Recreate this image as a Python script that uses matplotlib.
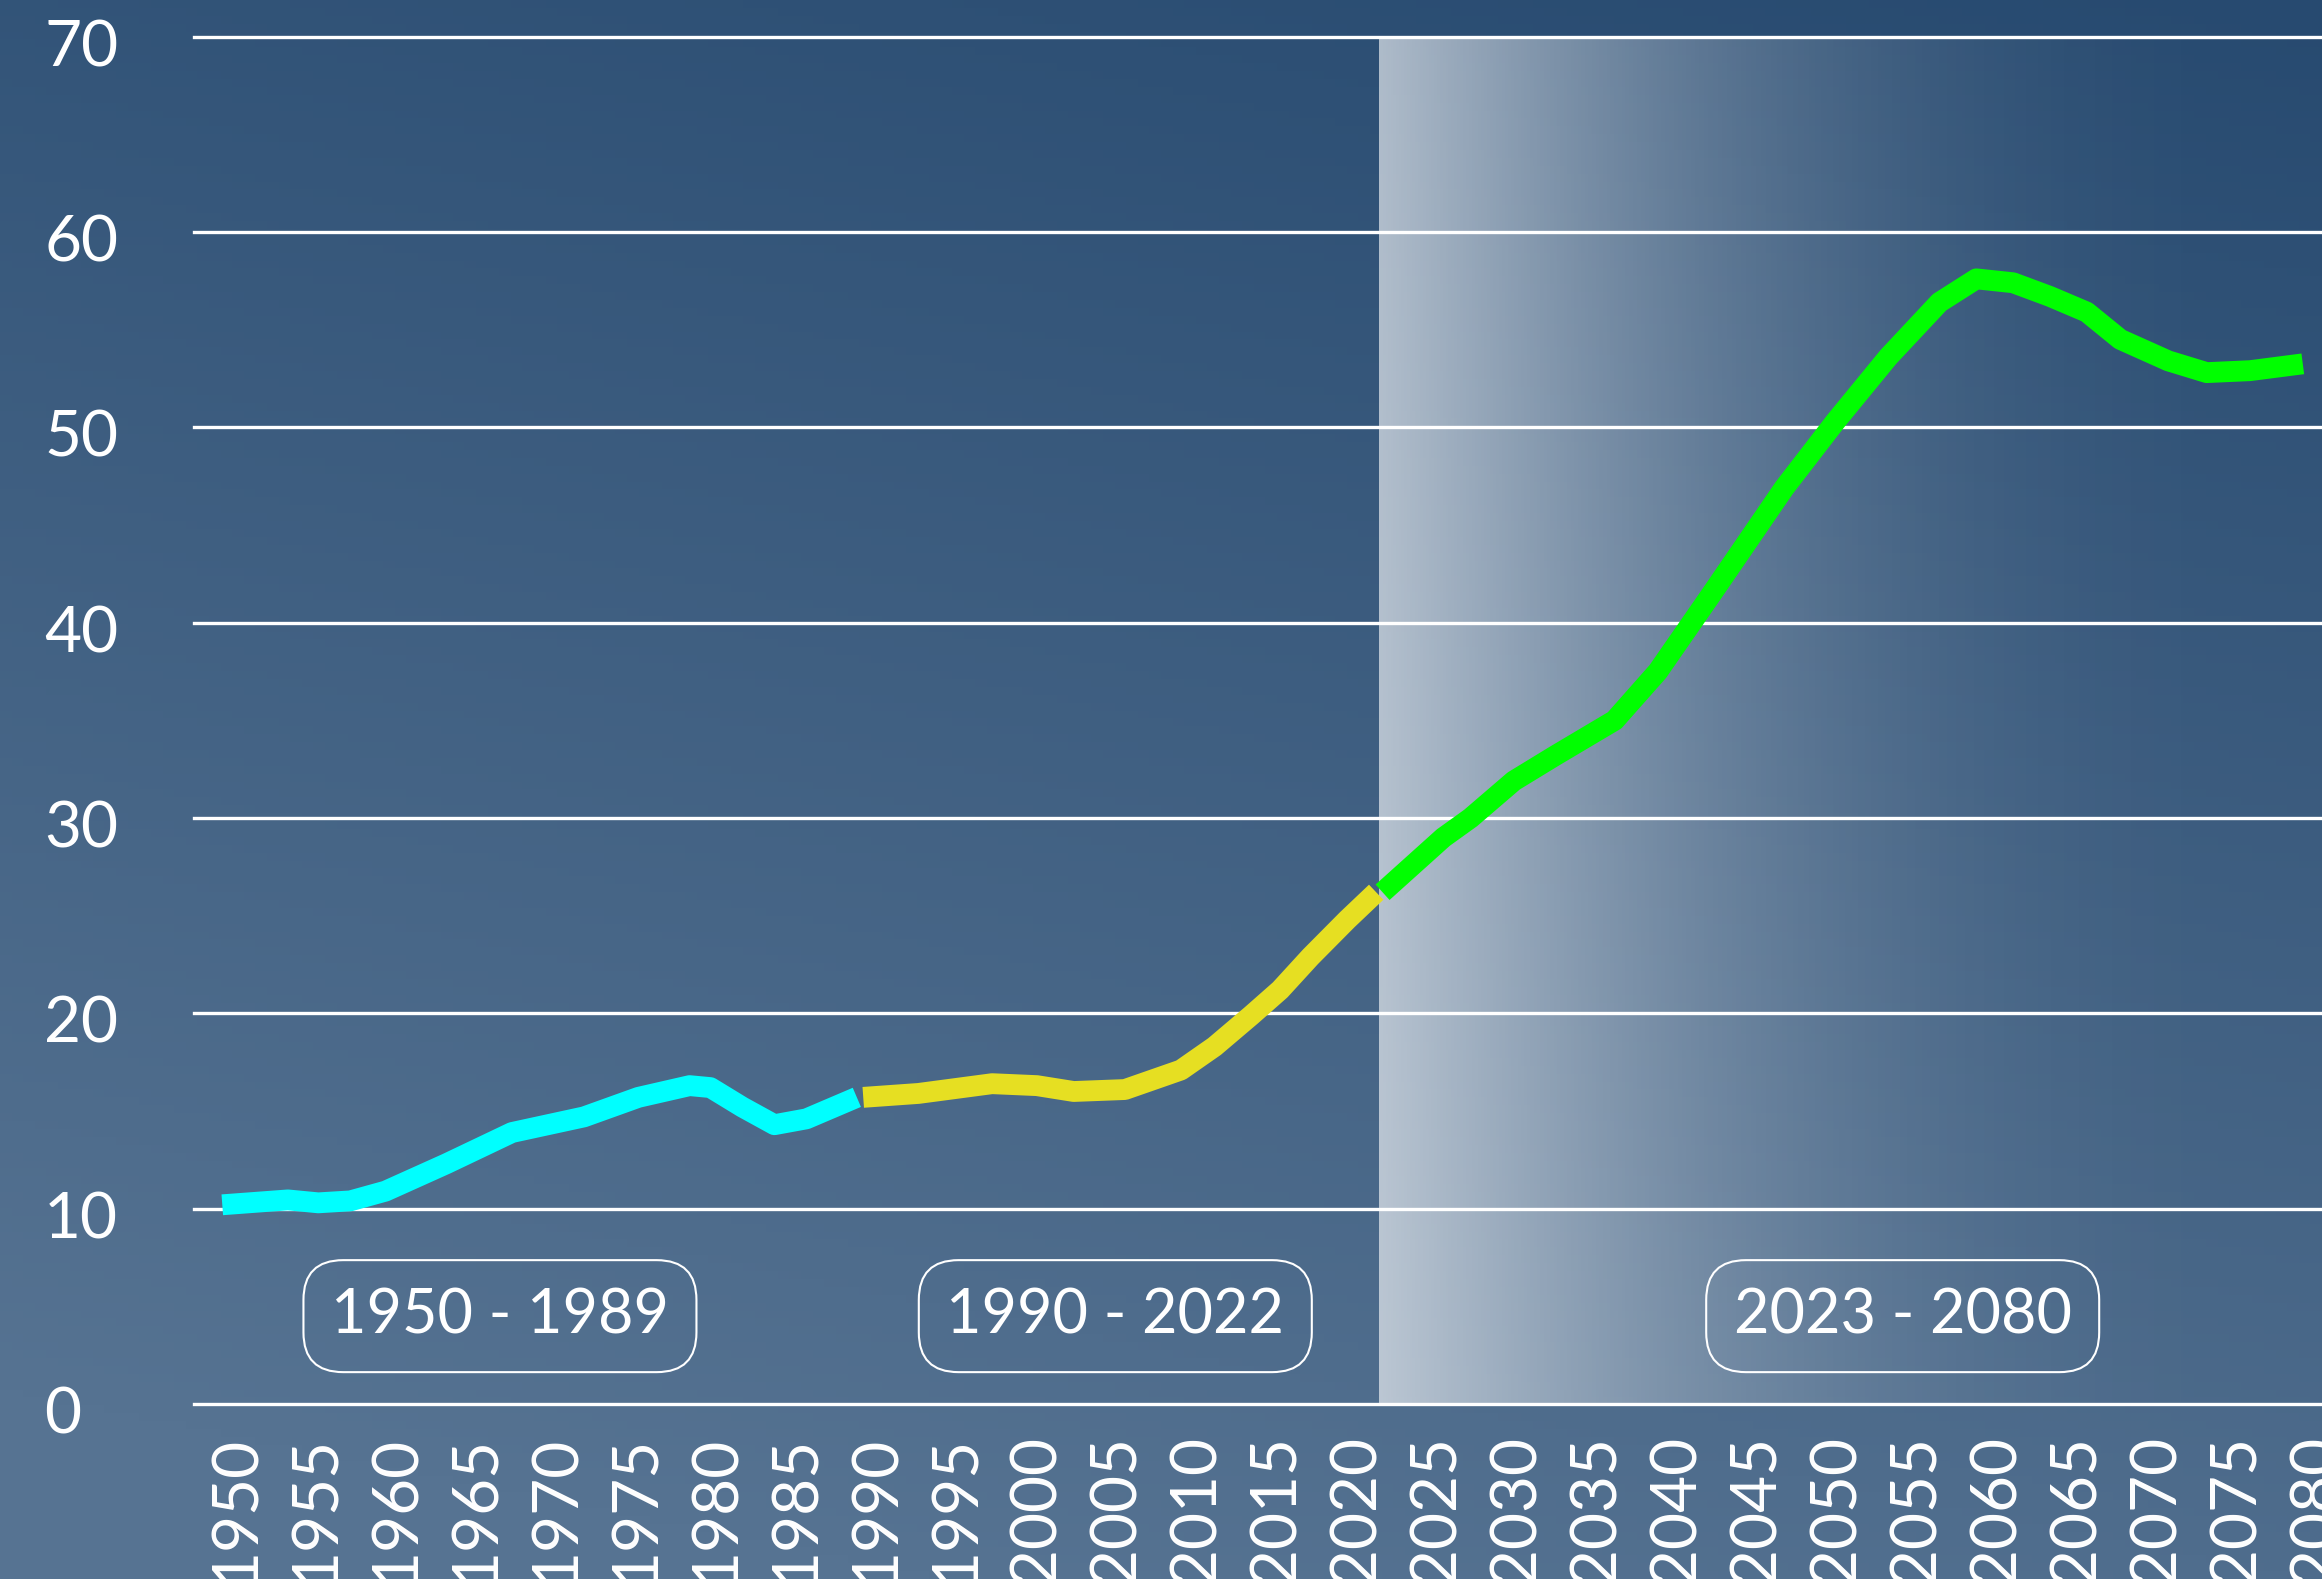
import numpy as np
import matplotlib.pyplot as plt
from matplotlib.transforms import ScaledTranslation

# series (year, value)
early_years = [1950, 1954.1, 1956, 1958, 1960.2, 1964, 1968.1, 1972.6, 1976, 1979.2,
               1980.5, 1982.5, 1984.5, 1986.5, 1989.65]
early_vals = [10.2, 10.45, 10.3, 10.4, 10.9, 12.3, 13.9, 14.7, 15.7, 16.3,
              16.2, 15.2, 14.3, 14.6, 15.7]

mid_years = [1990.05, 1993.5, 1998.1, 2000.9, 2003.2, 2006.4, 2009.9, 2012, 2014.3,
             2016.1, 2018, 2020.3, 2022.1]
mid_vals = [15.7, 15.9, 16.4, 16.3, 16.0, 16.1, 17.1, 18.3, 19.9,
            21.2, 22.9, 24.8, 26.2]

proj_years = [2022.5, 2026.3, 2028, 2030.7, 2033.3, 2037, 2039.7, 2043, 2047.6, 2050.8,
              2054.1, 2057.3, 2059.6, 2061.9, 2064.2, 2066.5, 2068.6, 2071.6, 2074,
              2076.7, 2080]
proj_vals = [26.2, 29.0, 30.0, 31.9, 33.2, 35.0, 37.5, 41.4, 46.9, 50.3,
             53.6, 56.4, 57.6, 57.4, 56.7, 55.9, 54.5, 53.4, 52.8,
             52.9, 53.25]

period_labels = ["1950 - 1989", "1990 - 2022", "2023 - 2080"]
period_centers = [1967.35, 2005.8, 2055.0]
period_y = 4.5

proj_start = 2022.25
xticks = list(range(1950, 2081, 5))
yticks = list(range(0, 71, 10))

FONT = "Lato"
plt.rcParams['font.family'] = [FONT, 'DejaVu Sans']

fig = plt.figure(figsize=(23.22, 15.79), dpi=100)

# background gradient
bg = fig.add_axes([0, 0, 1, 1], zorder=-1)
gy, gx = np.mgrid[0:1:200j, 0:1:200j]
t = np.clip(0.85 * gy + 0.25 * (1 - gx), 0, 1)
dark = np.array([0x27, 0x4a, 0x70]) / 255
light = np.array([0x56, 0x73, 0x92]) / 255
bgimg = dark[None, None, :] * (1 - t[..., None]) + light[None, None, :] * t[..., None]
bg.imshow(bgimg, extent=[0, 1, 1, 0], aspect='auto')
bg.axis('off')

ax = fig.add_axes([0.0836, 0.1108, 0.9164, 0.8660])
ax.patch.set_alpha(0)
for s in ax.spines.values():
    s.set_visible(False)

# projection shading: white fading out to the right
sx = np.linspace(0, 1, 400)
alpha = 0.62 * (1 - sx) ** 2.3
shade = np.ones((2, 400, 4))
shade[..., 3] = alpha[None, :]
ax.imshow(shade, extent=[proj_start, 2081.2, 0, 70], aspect='auto', zorder=1,
          interpolation='bilinear')
ax.set_xlim(1948.24, 2081.2)
ax.set_ylim(0, 70)

for v in yticks:
    ax.axhline(v, color='white', lw=2.4, zorder=2, clip_on=False)

lw = 15
ax.plot(early_years, early_vals, color='#00ffff', lw=lw, solid_capstyle='butt',
        solid_joinstyle='round', zorder=3)
ax.plot(mid_years, mid_vals, color='#e6df22', lw=lw, solid_capstyle='butt',
        solid_joinstyle='round', zorder=3)
ax.plot(proj_years, proj_vals, color='#00ff00', lw=lw, solid_capstyle='butt',
        solid_joinstyle='round', zorder=3)

for lab, cx in zip(period_labels, period_centers):
    ax.text(cx, period_y, lab, color='white', fontsize=44, ha='center', va='center',
            zorder=4,
            bbox=dict(boxstyle='round,pad=0.45,rounding_size=0.65', fc='none',
                      ec='white', lw=1.5))

ax.set_yticks(yticks)
ax.set_yticklabels([str(v) for v in yticks])
ax.set_xticks(xticks)
ax.set_xticklabels([str(v) for v in xticks], rotation=90, va='top')
ax.tick_params(axis='y', length=0, pad=108, labelsize=46, labelcolor='white')
ax.tick_params(axis='x', length=0, pad=22, labelsize=46, labelcolor='white')
yoff = ScaledTranslation(0, -0.06, fig.dpi_scale_trans)
for lab in ax.get_yticklabels():
    lab.set_horizontalalignment('left')
    lab.set_transform(lab.get_transform() + yoff)
off = ScaledTranslation(0.14, 0, fig.dpi_scale_trans)
for lab in ax.get_xticklabels():
    lab.set_transform(lab.get_transform() + off)

fig.savefig('out.png', dpi=100)
